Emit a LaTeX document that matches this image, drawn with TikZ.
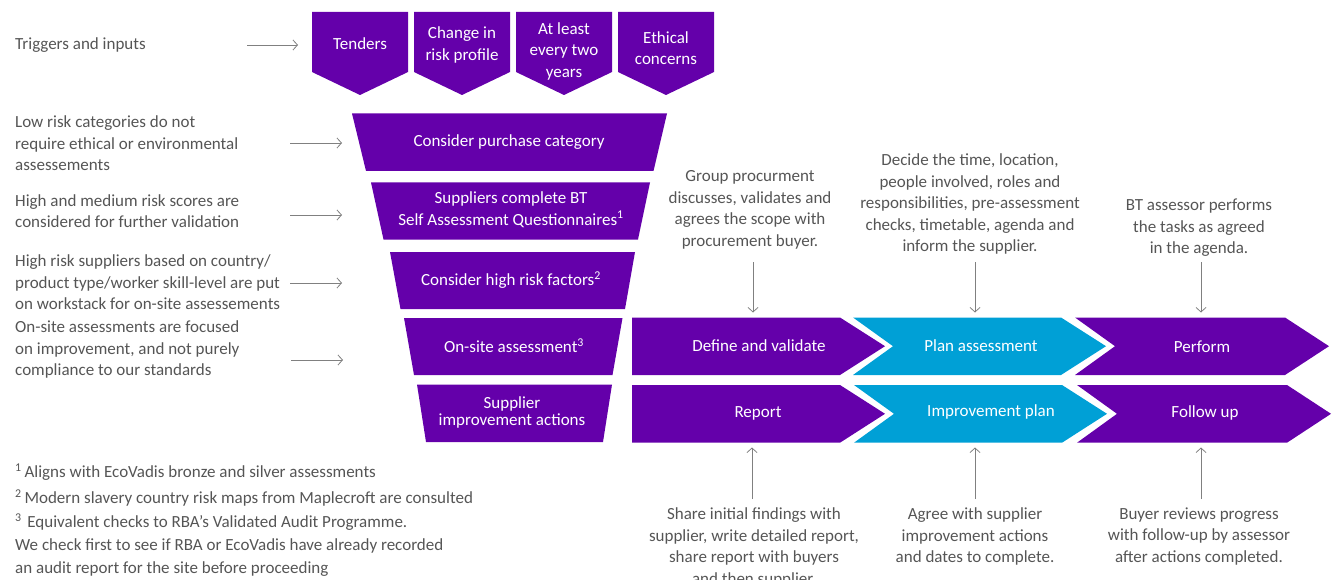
\documentclass[tikz,border=0pt]{standalone}
\usepackage{fontspec}
\setmainfont{Carlito}
\usetikzlibrary{arrows.meta}
\definecolor{btpurple}{HTML}{6400AA}
\definecolor{btblue}{HTML}{00A0D6}
\definecolor{txtgray}{HTML}{555555}
\definecolor{arrgray}{HTML}{808080}
\newcommand\fsz{\fontsize{17}{21.5}\selectfont}
\newcommand\fszb{\fontsize{17}{23}\selectfont}
\tikzset{
  lbl/.style={font=\fsz, text=txtgray, align=left, anchor=west, inner sep=0pt},
  ctxt/.style={font=\fsz, text=txtgray, align=center, inner sep=0pt},
  wtxt/.style={font=\fsz, text=white, align=center, inner sep=0pt},
  conn/.style={draw=arrgray, line width=0.8pt, -{Straight Barb[length=4.5pt,width=10pt]}},
  pshape/.style={fill=btpurple, draw=none},
  bshape/.style={fill=btblue, draw=none},
}
\begin{document}
\begin{tikzpicture}[x=1pt,y=-1pt]
\useasboundingbox (0,0) rectangle (1332,580);

% ---------- trigger shapes ----------
\foreach \L in {312,414,516,618}{
  \path[pshape] (\L,12) -- (\L+96,12) -- (\L+96,72) -- (\L+48,95) -- (\L,72) -- cycle;
}
\node[wtxt] (tTenders) at (360,44) {Tenders};
\node[wtxt] (tChange) at (462,45) {Change in\\risk profile};
\node[wtxt] (tLeast) at (564,51) {At least\\every two\\years};
\node[wtxt] (tEthical) at (666,48) {Ethical\\concerns};

% ---------- funnel ----------
\path[pshape] (352,113.5) -- (667,113.5) -- (653.5,171) -- (366,171) -- cycle;
\path[pshape] (371,182.5) -- (650,182.5) -- (638,239.5) -- (383.5,239.5) -- cycle;
\path[pshape] (390,252) -- (635,252) -- (625,309) -- (400.5,309) -- cycle;
\path[pshape] (404,318) -- (622.5,318) -- (612.5,375) -- (414,375) -- cycle;
\path[pshape] (417,384.5) -- (612,384.5) -- (603,442) -- (426,442) -- cycle;
\node[wtxt] (fPurchase) at (509,142) {Consider purchase category};
\node[wtxt] (fSAQ) at (511,209.5) {Suppliers complete BT\\Self Assessment Questionnaires\textsuperscript{1}};
\node[wtxt] (fRisk) at (511,280) {Consider high risk factors\textsuperscript{2}};
\node[wtxt] (fOnsite) at (514,346) {On-site assessment\textsuperscript{3}};
\node[wtxt] (fImprove) at (512,412.5) {Supplier\\[-4pt]improvement actions};

% ---------- chevrons ----------
\path[pshape] (632,317.5) -- (840,317.5) -- (885,346.2) -- (840,375) -- (632,375) -- cycle;
\path[bshape] (853,317.5) -- (1061,317.5) -- (1106,346.2) -- (1061,375) -- (853,375) -- (893,346.2) -- cycle;
\path[pshape] (1075,317.5) -- (1285,317.5) -- (1329,346.2) -- (1285,375) -- (1075,375) -- (1115,346.2) -- cycle;
\path[pshape] (632,385) -- (840,385) -- (885,413.8) -- (840,442.7) -- (632,442.7) -- cycle;
\path[bshape] (854,385) -- (1062,385) -- (1107,413.8) -- (1062,442.7) -- (854,442.7) -- (894,413.8) -- cycle;
\path[pshape] (1077,385) -- (1287,385) -- (1331,413.8) -- (1287,442.7) -- (1077,442.7) -- (1117,413.8) -- cycle;
\node[wtxt] (cDefine) at (759,346) {Define and validate};
\node[wtxt] (cPlan) at (981,346) {Plan assessment};
\node[wtxt] (cPerform) at (1202,347) {Perform};
\node[wtxt] (cReport) at (758,413) {Report};
\node[wtxt] (cImprove) at (991,412) {Improvement plan};
\node[wtxt] (cFollow) at (1205,413) {Follow up};

% ---------- left labels ----------
\node[lbl] (lTrig) at (15,45) {Triggers and inputs};
\node[lbl] (lLow) at (15,143.5) {Low risk categories do not\\require ethical or environmental\\assessements};
\node[lbl] (lHigh) at (15,211) {High and medium risk scores are\\considered for further validation};
\node[lbl] (lSupp) at (15,282.5) {High risk suppliers based on country/\\product type/worker skill-level are put\\on workstack for on-site assessements};
\node[lbl] (lOn) at (15,349.5) {On-site assessments are focused\\on improvement, and not purely\\compliance to our standards};

\coordinate (a1s) at (247,45);  \coordinate (a1e) at (298,45);
\coordinate (a2s) at (290,143); \coordinate (a2e) at (342,143);
\coordinate (a3s) at (290,215); \coordinate (a3e) at (342,215);
\coordinate (a4s) at (290,283); \coordinate (a4e) at (342,283);
\coordinate (a5s) at (291,360); \coordinate (a5e) at (343,360);
\draw[conn] (a1s) -- (a1e);
\draw[conn] (a2s) -- (a2e);
\draw[conn] (a3s) -- (a3e);
\draw[conn] (a4s) -- (a4e);
\draw[conn] (a5s) -- (a5e);

% ---------- footnotes ----------
\node[lbl] (n1) at (15,472) {\textsuperscript{1}\,Aligns with EcoVadis bronze and silver assessments};
\node[lbl] (n2) at (15,498) {\textsuperscript{2}\,Modern slavery country risk maps from Maplecroft are consulted};
\node[lbl, font=\fszb] (n3) at (15,545) {\textsuperscript{3}\,\,Equivalent checks to RBA’s Validated Audit Programme.\\We check first to see if RBA or EcoVadis have already recorded\\an audit report for the site before proceeding};

% ---------- descriptions above ----------
\node[ctxt] (dGroup) at (750,210) {Group procurment\\discusses, validates and\\agrees the scope with\\procurement buyer.};
\node[ctxt] (dDecide) at (970,204) {Decide the time, location,\\people involved, roles and\\responsibilities, pre-assessment\\checks, timetable, agenda and\\inform the supplier.};
\node[ctxt] (dBT) at (1199,228) {BT assessor performs\\the tasks as agreed\\in the agenda.};
\coordinate (u1s) at (753,262); \coordinate (u1e) at (753,312.5);
\coordinate (u2s) at (975,262); \coordinate (u2e) at (975,312.5);
\coordinate (u3s) at (1201,262); \coordinate (u3e) at (1201,312.5);
\draw[conn] (u1s) -- (u1e);
\draw[conn] (u2s) -- (u2e);
\draw[conn] (u3s) -- (u3e);

% ---------- descriptions below ----------
\node[ctxt] (dShare) at (754,547.5) {Share initial findings with\\supplier, write detailed report,\\share report with buyers\\and then supplier.};
\node[ctxt] (dAgree) at (975,536.5) {Agree with supplier\\improvement actions\\and dates to complete.};
\node[ctxt] (dBuyer) at (1199,536.5) {Buyer reviews progress\\with follow-up by assessor\\after actions completed.};
\coordinate (b1s) at (752,499); \coordinate (b1e) at (752,447.5);
\coordinate (b2s) at (975,499); \coordinate (b2e) at (975,447.5);
\coordinate (b3s) at (1201,499); \coordinate (b3e) at (1201,447.5);
\draw[conn] (b1s) -- (b1e);
\draw[conn] (b2s) -- (b2e);
\draw[conn] (b3s) -- (b3e);
\end{tikzpicture}
\end{document}
